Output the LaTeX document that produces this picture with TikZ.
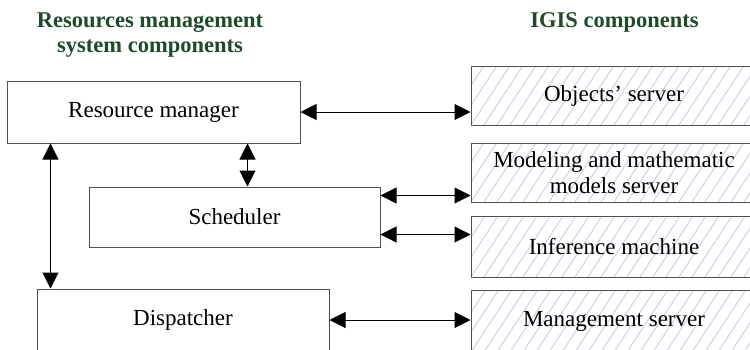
\documentclass[tikz,border=0pt]{standalone}
\usepackage{fontspec}
\setmainfont{Liberation Serif}
\usetikzlibrary{arrows.meta,calc}
\definecolor{titlegreen}{HTML}{1F4A2C}
\definecolor{boxline}{HTML}{505050}
\definecolor{hatchblue}{HTML}{CAD4E8}
\begin{document}
\begin{tikzpicture}[x=1pt,y=-1pt,
  every node/.style={font=\fontsize{23}{26}\selectfont},
  title/.style={font=\fontsize{22.5}{25}\bfseries\selectfont, text=titlegreen, inner sep=0pt},
  rmsbox/.style={draw=boxline, line width=1pt, fill=white, align=center, inner sep=0pt},
  igisbox/.style={rmsbox, minimum width=286pt,
    path picture={
      \foreach \i in {-6,...,24}
        \draw[hatchblue, line width=1pt]
          ([xshift=\i*13pt]path picture bounding box.south west) -- ++(42pt,64pt);
    }},
  biarrow/.style={{Triangle[length=16pt,width=16pt]}-{Triangle[length=16pt,width=16pt]}, line width=1pt, black}
]
\useasboundingbox (0,0) rectangle (750,349);

% column titles
\node[title, anchor=base] (ta) at (150,27) {Resources management};
\node[title, anchor=base] (tb) at (150,52) {system components};
\node[title, anchor=base] (tc) at (614.5,27) {IGIS components};

% resources management system components
\node[rmsbox, minimum width=293pt, minimum height=62pt] (rm) at (153.5,112) {Resource manager};
\node[rmsbox, minimum width=291pt, minimum height=60pt] (sch) at (234.5,217) {Scheduler};
\node[rmsbox, minimum width=292pt, minimum height=62pt] (disp) at (183,320) {Dispatcher};

% IGIS components
\node[igisbox, minimum height=59pt] (obj) at (614,95.5) {Objects’ server};
\node[igisbox, minimum height=59pt] (mod) at (614,172.5) {Modeling and mathematic\\models server};
\node[igisbox, minimum height=61pt] (inf) at (614,246.5) {Inference machine};
\node[igisbox, minimum height=62pt] (mgmt) at (614,321) {Management server};

% connections
\draw[biarrow] (rm.east) -- (rm.east -| obj.west);
\coordinate (s1) at ([yshift=-9pt]sch.north east);
\coordinate (s2) at ([yshift=-48pt]sch.north east);
\draw[biarrow] (s1) -- (s1 -| mod.west);
\draw[biarrow] (s2) -- (s2 -| inf.west);
\draw[biarrow] (disp.east) -- (disp.east -| mgmt.west);
\coordinate (v1) at ([xshift=44pt]rm.south west);
\coordinate (v2) at ([xshift=241pt]rm.south west);
\draw[biarrow] (v1) -- (v1 |- disp.north);
\draw[biarrow] (v2) -- (v2 |- sch.north);
\end{tikzpicture}
\end{document}
